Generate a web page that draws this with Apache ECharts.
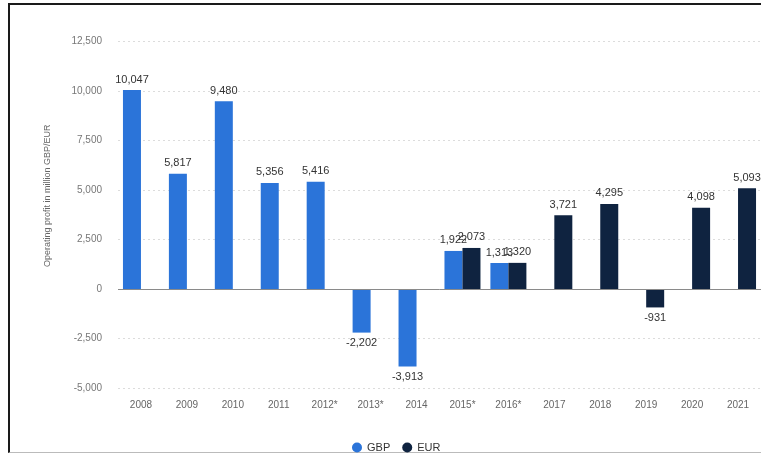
<!DOCTYPE html>
<html>
<head>
<meta charset="utf-8">
<script src="https://cdn.jsdelivr.net/npm/echarts@6/dist/echarts.min.js"></script>
<style>
  html, body { margin: 0; padding: 0; background: #fff; }
  #frame { position: absolute; left: 0; top: 0; width: 761px; height: 456px; overflow: hidden; background: #fff; }
  #border { position: absolute; left: 8px; top: 3px; width: 760px; height: 450px; border-left: 2px solid #1a1a1a; border-top: 2px solid #1a1a1a; border-bottom: 1px solid #bbb; box-sizing: border-box; }
  #chart { position: absolute; left: 0; top: 0; width: 761px; height: 456px; }
</style>
</head>
<body>
<div id="frame">
  <div id="border"></div>
  <div id="chart"></div>
</div>
<script>
// Operating profit per year, reported in GBP up to 2016 and in EUR from 2015 on
const years = ['2008', '2009', '2010', '2011', '2012*', '2013*', '2014', '2015*', '2016*', '2017', '2018', '2019', '2020', '2021'];
const gbpValues = [10047, 5817, 9480, 5356, 5416, -2202, -3913, 1922, 1313, null, null, null, null, null];
const eurValues = [null, null, null, null, null, null, null, 2073, 1320, 3721, 4295, -931, 4098, 5093];
const yTicks = { min: -5000, max: 12500, step: 2500 };

const fmt = v => (v < 0 ? '-' : '') + Math.abs(v).toLocaleString('en-US');

const chart = echarts.init(document.getElementById('chart'), null, { renderer: 'canvas' });

const barLabel = {
  show: true,
  position: 'top',
  distance: 5,
  fontSize: 11,
  color: '#333',
  fontFamily: 'Liberation Sans, Arial, sans-serif',
  formatter: p => fmt(p.value)
};

function makeSeries(name, values, color) {
  return {
    name: name,
    type: 'bar',
    barWidth: 18,
    barGap: '0%',
    itemStyle: { color: color },
    data: values.map(v => v === null ? null : {
      value: v,
      label: v < 0 ? { position: 'bottom' } : undefined
    }),
    label: barLabel
  };
}

const gbp = makeSeries('GBP', gbpValues, '#2b74d9');
gbp.markLine = {
  silent: true,
  symbol: 'none',
  label: { show: false },
  lineStyle: { color: '#8a8a8a', width: 1, type: 'solid' },
  data: [{ yAxis: 0 }]
};
const eur = makeSeries('EUR', eurValues, '#0f2340');

chart.setOption({
  animation: false,
  textStyle: { fontFamily: 'Liberation Sans, Arial, sans-serif' },
  grid: { left: 118, right: -1, top: 41.5, bottom: 68, containLabel: false },
  legend: {
    data: ['GBP', 'EUR'],
    left: 347,
    top: 437,
    icon: 'circle',
    itemWidth: 10,
    itemHeight: 10,
    itemGap: 12,
    textStyle: { fontSize: 11, color: '#333' }
  },
  xAxis: {
    type: 'category',
    data: years,
    axisLine: { show: false },
    axisTick: { show: false },
    axisLabel: { fontSize: 10, color: '#666', margin: 12, interval: 0 }
  },
  yAxis: {
    type: 'value',
    min: yTicks.min,
    max: yTicks.max,
    interval: yTicks.step,
    name: 'Operating profit in million GBP/EUR',
    nameLocation: 'middle',
    nameGap: 66,
    nameTextStyle: { fontSize: 9, color: '#666', padding: [0, 0, 0, 38] },
    axisLine: { show: false },
    axisTick: { show: false },
    axisLabel: { fontSize: 10, color: '#777', margin: 16, formatter: v => fmt(v) },
    splitLine: { lineStyle: { color: '#dcdcdc', type: [2, 3] } }
  },
  series: [gbp, eur]
});
</script>
</body>
</html>
